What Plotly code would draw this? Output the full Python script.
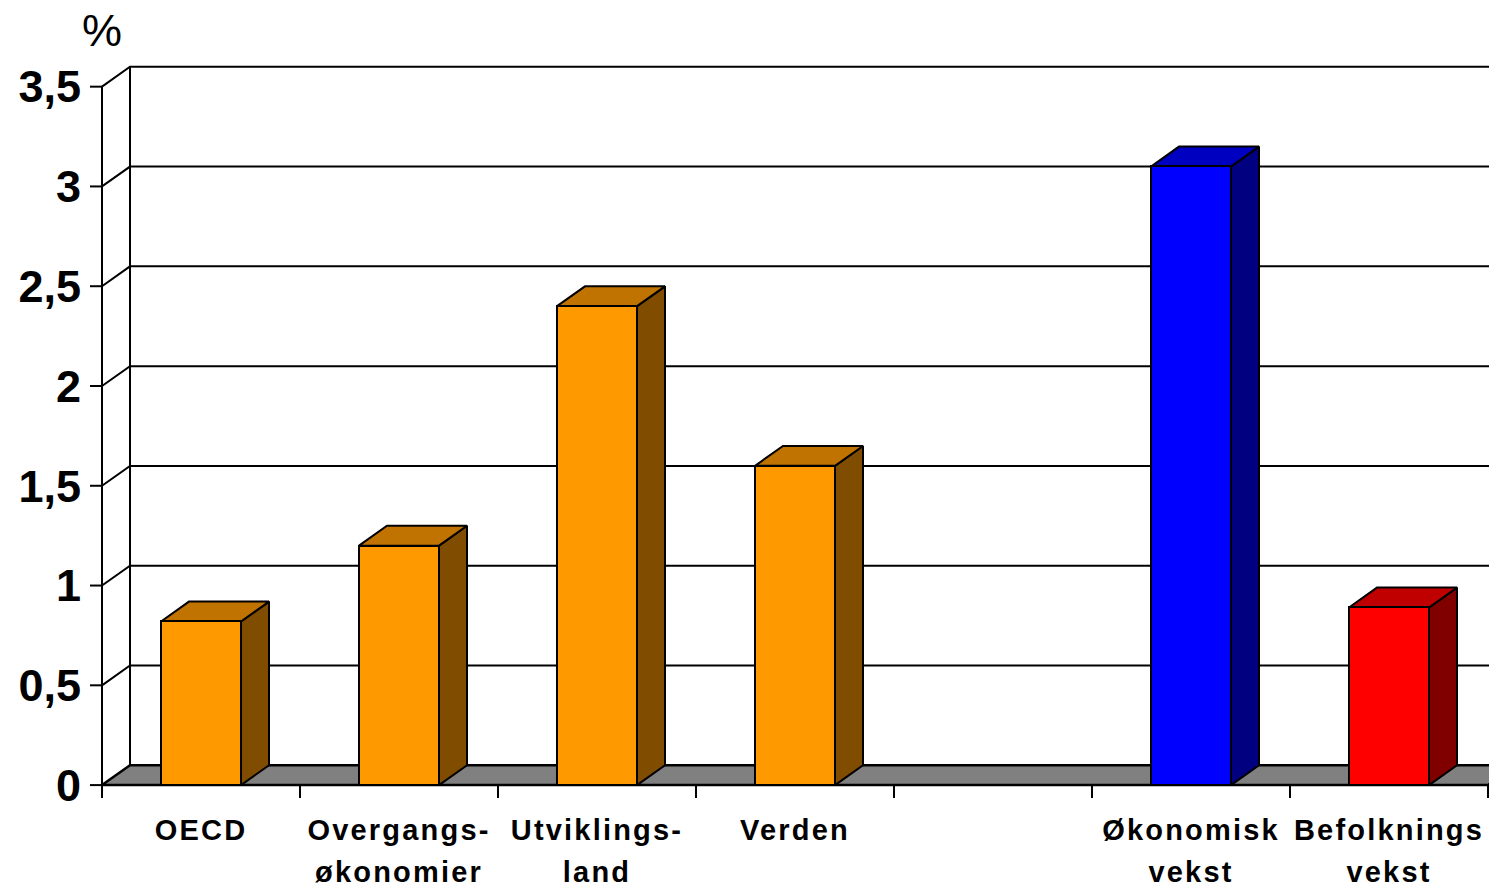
import plotly.graph_objects as go

# ---- data ----
categories = ["OECD", "Overgangs-<br>økonomier", "Utviklings-<br>land", "Verden", "",
              "Økonomisk<br>vekst", "Befolknings<br>vekst"]
values = [0.82, 1.2, 2.4, 1.6, None, 3.1, 0.89]
front_colors = ["#FF9900", "#FF9900", "#FF9900", "#FF9900", None, "#0000FF", "#FF0000"]
top_colors = ["#C07300", "#C07300", "#C07300", "#C07300", None, "#0000C0", "#C00000"]
side_colors = ["#804C00", "#804C00", "#804C00", "#804C00", None, "#000080", "#800000"]
y_ticks = [0, 0.5, 1, 1.5, 2, 2.5, 3, 3.5]
y_ticktext = ["0", "0,5", "1", "1,5", "2", "2,5", "3", "3,5"]
unit_label = "%"

# ---- geometry (pixel-based scale; page has an 8px body margin) ----
OFF = 8
W, H = 1497 - OFF, 888 - OFF
PX_X = 198.0     # px per category
PX_Y = 200.9     # px per y unit
X0_PX = 102 - OFF      # front axis position
Y0_PX = 790 - OFF      # zero line position
left_px, right_px, top_px, bot_px = 90 - OFF, W, 60 - OFF, 803 - OFF
x_lo = -0.5 - (X0_PX - left_px) / PX_X
x_hi = -0.5 + (right_px - X0_PX) / PX_X
y_lo = -(bot_px - Y0_PX) / PX_Y
y_hi = (Y0_PX - top_px) / PX_Y
DX = 28 / PX_X
DY = 20 / PX_Y
BW = 80 / PX_X
n = len(categories)
xs = list(range(n))
x_first, x_last = -0.5, n - 0.5
ytop = y_ticks[-1]

fig = go.Figure()

def poly(px, py, fill, lw=2):
    fig.add_trace(go.Scatter(x=px + [px[0]], y=py + [py[0]], mode="lines", fill="toself",
                             fillcolor=fill, line=dict(color="black", width=lw),
                             hoverinfo="skip", showlegend=False))

def seg(px, py, lw=2, color="black"):
    fig.add_trace(go.Scatter(x=px, y=py, mode="lines", line=dict(color=color, width=lw),
                             hoverinfo="skip", showlegend=False))

# floor
poly([x_first, x_last, x_last + DX, x_first + DX], [0, 0, DY, DY], "#808080", lw=2.5)

# back-wall gridlines and side-wall slants
for v in y_ticks[1:]:
    seg([x_first, x_first + DX, x_last + DX], [v, v + DY, v + DY], lw=2)
# back wall left edge
seg([x_first + DX, x_first + DX], [DY, ytop + DY], lw=2)
# front vertical axis
seg([x_first, x_first], [0, ytop], lw=2)
# y tick marks
for v in y_ticks:
    seg([x_lo, x_first], [v, v], lw=2)
# x tick marks at category boundaries
for i in range(n + 1):
    b = i - 0.5
    seg([b, b], [0, y_lo], lw=2)

# bar top and side faces
for x, v, tc, sc in zip(xs, values, top_colors, side_colors):
    if v is None:
        continue
    l, r = x - BW / 2, x + BW / 2
    poly([r, r + DX, r + DX, r], [0, DY, v + DY, v], sc)
    poly([l, r, r + DX, l + DX], [v, v, v + DY, v + DY], tc)

# bar front faces (on an overlaid subplot so they sit above the back-wall grid)
bx = [x for x, v in zip(xs, values) if v is not None]
bv = [v for v in values if v is not None]
bc = [c for c, v in zip(front_colors, values) if v is not None]
fig.add_trace(go.Bar(x=bx, y=bv, width=BW, xaxis="x2", yaxis="y2",
                     marker=dict(color=bc, line=dict(color="black", width=2)),
                     hoverinfo="skip", showlegend=False))

plot_w = right_px - left_px
plot_h = bot_px - top_px
fig.add_annotation(x=(X0_PX - left_px) / plot_w, y=(bot_px - (30 - OFF)) / plot_h,
                   xref="paper", yref="paper", text=unit_label,
                   showarrow=False, font=dict(family="Liberation Sans", size=45, color="black"),
                   xanchor="center", yanchor="middle")

xt = ['<span style="font-size:29px;letter-spacing:2.2px">' + c.replace("<br>", '</span><br><span style="font-size:29px;letter-spacing:2.2px">') + "</span>" if c else "" for c in categories]

fig.update_layout(
    width=W, height=H,
    margin=dict(l=left_px, r=W - right_px, t=top_px, b=H - bot_px, pad=0),
    plot_bgcolor="white", paper_bgcolor="white",
    bargap=0,
    xaxis=dict(range=[x_lo, x_hi], tickvals=xs, ticktext=xt, showgrid=False,
               zeroline=False, showline=False, ticks="", ticklabelstandoff=8,
               tickfont=dict(family="Liberation Sans", size=32.5, color="black", weight="bold")),
    yaxis=dict(range=[y_lo, y_hi], tickvals=y_ticks, ticktext=y_ticktext, showgrid=False,
               zeroline=False, showline=False, ticks="", ticklabelstandoff=8,
               tickfont=dict(family="Liberation Sans", size=45, color="black", weight="bold")),
    xaxis2=dict(range=[x_lo, x_hi], overlaying="x", visible=False),
    yaxis2=dict(range=[y_lo, y_hi], overlaying="y", visible=False),
)

fig.write_html("out.html")
